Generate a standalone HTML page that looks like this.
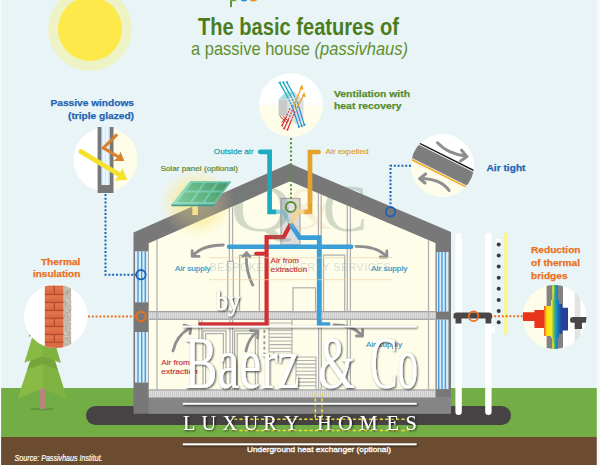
<!DOCTYPE html>
<html><head><meta charset="utf-8">
<style>
html,body{margin:0;padding:0;background:#e9f4f7;}
body{width:600px;height:465px;overflow:hidden;font-family:"Liberation Sans",sans-serif;}
svg{display:block}
text{font-family:"Liberation Sans",sans-serif;}
.serif text{font-family:"Liberation Serif",serif;}
</style></head><body>
<svg width="600" height="465" viewBox="0 0 600 465">
<defs>
  <pattern id="hatch" width="2" height="8" patternUnits="userSpaceOnUse">
    <rect width="2" height="8" fill="#dedede"/><rect width="1" height="8" fill="#cbcbcb"/>
  </pattern>
  <pattern id="glass" width="3.6" height="8" patternUnits="userSpaceOnUse">
    <rect width="3.6" height="8" fill="#d6ecfa"/><rect x="0" width="1.5" height="8" fill="#4d9fdc"/>
  </pattern>
  <linearGradient id="pan" gradientUnits="userSpaceOnUse" x1="172" y1="204" x2="231" y2="181"><stop offset="0" stop-color="#9be0c6"/><stop offset="1" stop-color="#58b99a"/></linearGradient>
  <linearGradient id="pan2" gradientUnits="userSpaceOnUse" x1="172" y1="204" x2="231" y2="181"><stop offset="0" stop-color="#84d09c"/><stop offset="0.6" stop-color="#5cae7c"/><stop offset="1" stop-color="#468f68"/></linearGradient>
  <radialGradient id="glow" cx="0.5" cy="0.5" r="0.5">
    <stop offset="0" stop-color="#fae680" stop-opacity="0.8"/>
    <stop offset="0.5" stop-color="#fbe98c" stop-opacity="0.55"/>
    <stop offset="1" stop-color="#fbf2b4" stop-opacity="0"/>
  </radialGradient>
  <linearGradient id="heat" x1="0" x2="1" y1="0" y2="0">
    <stop offset="0" stop-color="#e8351c"/>
    <stop offset="0.46" stop-color="#e8351c"/>
    <stop offset="0.50" stop-color="#f59a1a"/>
    <stop offset="0.54" stop-color="#fde21a"/>
    <stop offset="0.64" stop-color="#f6e61a"/>
    <stop offset="0.68" stop-color="#7cc242"/>
    <stop offset="0.72" stop-color="#1aa6b8"/>
    <stop offset="0.78" stop-color="#1b75bc"/>
    <stop offset="0.86" stop-color="#23409a"/>
    <stop offset="1" stop-color="#23409a"/>
  </linearGradient>
  <clipPath id="cWin"><circle cx="105.5" cy="159.5" r="32"/></clipPath>
  <clipPath id="cVent"><circle cx="291" cy="105.3" r="32"/></clipPath>
  <clipPath id="cAir"><circle cx="442.5" cy="165.5" r="31.5"/></clipPath>
  <clipPath id="cIns"><circle cx="55.8" cy="316.3" r="31.8"/></clipPath>
  <clipPath id="cBr"><circle cx="554.5" cy="317" r="32"/></clipPath>
  <clipPath id="cHouse"><polygon points="148.7,243.3 290,181.3 435.5,243 435.5,390 148.7,390"/></clipPath>
</defs>

<!-- background -->
<rect width="600" height="465" fill="#e9f4f7"/>

<!-- sun -->
<circle cx="90" cy="29" r="42" fill="#eef3c6"/>
<circle cx="90" cy="29" r="32" fill="#fdea4a"/>

<!-- ground -->
<rect x="0" y="388" width="600" height="50" fill="#73ad46"/>
<rect x="0" y="437" width="600" height="28" fill="#6b4c31"/>

<!-- tree -->
<defs><clipPath id="cT2"><polygon points="42.8,323 67,398.8 42.8,388 17.6,398.8"/></clipPath></defs>
<g>
  <ellipse cx="42.3" cy="409" rx="12.5" ry="1.5" fill="#5f9a3a"/>
  <rect x="39.4" y="385" width="6.2" height="24" fill="#b4877c"/>
  <polygon points="42.8,323 67,398.8 42.8,388 17.6,398.8" fill="#88ba45"/>
  <polygon points="42.8,323 67,398.8 42.8,388" fill="#80b241"/>
  <polygon clip-path="url(#cT2)" points="24.3,362.7 42.8,356 60.7,362.7 62,371 42.8,364 23,371" fill="#76a53b"/>
  <polygon points="42.8,303 60.7,362.7 42.8,356 24.3,362.7" fill="#88ba45"/>
  <polygon points="42.8,303 60.7,362.7 42.8,356" fill="#80b241"/>
  <polygon points="42.8,290 57,337 42.8,331 28.6,337" fill="#88ba45"/>
</g>

<!-- foundation pill -->
<rect x="86" y="406" width="425" height="19" rx="9.5" fill="#474345"/>

<!-- posts -->
<rect x="455.4" y="233" width="6.4" height="182" rx="3.2" fill="#ffffff"/>
<rect x="485.2" y="233" width="6.4" height="182" rx="3.2" fill="#ffffff"/>
<rect x="489" y="326.5" width="6" height="6.5" fill="#ffffff"/>
<!-- dots + yellow line -->
<g fill="#3d3a3c">
  <circle cx="498.7" cy="244.4" r="2"/><circle cx="498.7" cy="255.5" r="2"/><circle cx="498.7" cy="266.6" r="2"/>
  <circle cx="498.7" cy="277.7" r="2"/><circle cx="498.7" cy="288.8" r="2"/><circle cx="498.7" cy="300" r="2"/>
  <circle cx="498.7" cy="311.1" r="2"/><circle cx="498.7" cy="322.3" r="2"/>
</g>
<rect x="496" y="239" width="5" height="3" fill="#ffffff"/>
<rect x="504.2" y="233" width="3.2" height="101.5" fill="#fbf68a"/>

<!-- house shell -->
<ellipse cx="197" cy="203" rx="38" ry="35" fill="url(#glow)"/>
<polygon points="133.5,232.5 290,163.5 451,232 451,413.7 133.5,413.7" fill="#787878"/>
<rect x="148.7" y="397" width="302.3" height="16.7" fill="#858585"/>
<!-- interior -->
<polygon points="148.7,243.3 290,181.3 435.5,243 435.5,390 148.7,390" fill="#fdfde9"/>
<ellipse cx="197" cy="203" rx="38" ry="35" fill="url(#glow)" clip-path="url(#cHouse)"/>
<!-- windows -->
<rect x="135" y="251.3" width="13.2" height="51" fill="#d9edf9"/><rect x="137.30" y="251.3" width="1.4" height="51" fill="#4b9bd8"/><rect x="141.00" y="251.3" width="1.4" height="51" fill="#4b9bd8"/><rect x="144.60" y="251.3" width="1.4" height="51" fill="#4b9bd8"/>
<rect x="135" y="332" width="13.2" height="50.5" fill="#d9edf9"/><rect x="137.30" y="332" width="1.4" height="50.5" fill="#4b9bd8"/><rect x="141.00" y="332" width="1.4" height="50.5" fill="#4b9bd8"/><rect x="144.60" y="332" width="1.4" height="50.5" fill="#4b9bd8"/>
<rect x="436.7" y="252" width="11.8" height="59.5" fill="#d9edf9"/><rect x="438.00" y="252" width="1.4" height="59.5" fill="#4b9bd8"/><rect x="441.30" y="252" width="1.4" height="59.5" fill="#4b9bd8"/><rect x="444.70" y="252" width="1.4" height="59.5" fill="#4b9bd8"/>
<rect x="436.7" y="319.6" width="11.8" height="69.5" fill="#d9edf9"/><rect x="438.00" y="319.6" width="1.4" height="69.5" fill="#4b9bd8"/><rect x="441.30" y="319.6" width="1.4" height="69.5" fill="#4b9bd8"/><rect x="444.70" y="319.6" width="1.4" height="69.5" fill="#4b9bd8"/>
<!-- floors -->
<rect x="148.7" y="311.5" width="286.8" height="8" fill="url(#hatch)"/>
<rect x="148.7" y="311" width="286.8" height="1.3" fill="#a3a3a3"/>
<rect x="148.7" y="318.6" width="286.8" height="1.3" fill="#a3a3a3"/>
<rect x="148.7" y="390" width="286.8" height="7.5" fill="url(#hatch)"/>
<rect x="148.7" y="389.3" width="286.8" height="1.2" fill="#a3a3a3"/>
<!-- interior thin lines -->
<g clip-path="url(#cHouse)" fill="none" stroke="#b0b0b0" stroke-width="1.25">
  <line x1="157" y1="230" x2="157" y2="390"/>
  <line x1="428.5" y1="230" x2="428.5" y2="390"/>
  <line x1="229.4" y1="200" x2="229.4" y2="262"/><line x1="232.6" y1="200" x2="232.6" y2="262"/>
  <line x1="347.3" y1="200" x2="347.3" y2="311"/><line x1="350.4" y1="200" x2="350.4" y2="311"/>
  <line x1="318.4" y1="190" x2="318.4" y2="311"/><line x1="321.2" y1="190" x2="321.2" y2="311"/>
  <rect x="227.8" y="261.3" width="5.6" height="50"/>
  <polyline points="239.6,311 239.6,255.4 264,255.4"/>
  <line x1="259.4" y1="255.4" x2="259.4" y2="311"/>
  <rect x="293" y="287.8" width="22.6" height="24"/>
  <polyline points="323.5,311 323.5,255 344.7,255 344.7,311"/>
  <!-- lower floor -->
  <line x1="199" y1="320" x2="199" y2="340"/><line x1="201.8" y1="320" x2="201.8" y2="340"/>
  <rect x="203" y="331" width="23" height="60"/><rect x="205.6" y="333.6" width="17.8" height="58"/>
  <line x1="230" y1="320" x2="230" y2="390"/><line x1="232.6" y1="320" x2="232.6" y2="390"/>
  <rect x="234.6" y="331" width="23.4" height="60"/><rect x="237.2" y="333.6" width="18.2" height="58"/>
  <line x1="318.6" y1="320" x2="318.6" y2="390"/><line x1="321.3" y1="320" x2="321.3" y2="390"/>
  <line x1="347.3" y1="320" x2="347.3" y2="390"/><line x1="350.4" y1="320" x2="350.4" y2="390"/>
  <!-- stairs -->
  <path d="M269,320 V352 H274 V357 H292 M292,320 V357 H296 V390 M316,357 V390 M296,357 H316 M269,323.0 H292 M269,326.6 H292 M269,330.2 H292 M269,333.8 H292 M269,337.4 H292 M269,341.0 H292 M269,344.6 H292 M269,348.2 H292 M269,351.8 H292 M296.0,360.5 H316 M296.0,364.1 H316 M296.0,367.7 H316 M296.0,371.3 H316 M296.0,374.9 H316 M296.0,378.5 H316 M296.0,382.1 H316 M296.0,385.7 H316 " stroke-width="1.1"/>
</g>
<line x1="264.4" y1="330" x2="264.4" y2="355" stroke="#9a9a9a" stroke-width="1.9" stroke-dasharray="3,2.6"/>
<!-- HVAC box -->
<rect x="281" y="198.5" width="19" height="46.5" fill="#dcdcdc" stroke="#a8a8a8" stroke-width="1.2"/>
<!-- PIPES -->
<g fill="none" stroke-linecap="round" stroke-linejoin="miter">
  <line x1="229.2" y1="246.8" x2="351.2" y2="246.8" stroke="#3a9fd8" stroke-width="4.6"/>
  <polyline points="260.2,151.8 269.6,151.8 269.6,211.8 276,211.8" stroke="#1cabc0" stroke-width="4.7" stroke-linecap="round"/>
  <polyline points="318.6,152 310,152 310,211.8 304.5,211.8" stroke="#e5a22c" stroke-width="4.7"/>
  <polyline points="276,211.8 283,211.8 290.6,224" stroke="#8fd3de" stroke-width="4" stroke-linecap="butt" stroke-linejoin="round"/>
  <polyline points="304.5,211.8 298.2,211.8 290.6,224" stroke="#f8d48a" stroke-width="4" stroke-linecap="butt" stroke-linejoin="round"/>
  <polyline points="290.6,224 283.6,237.2 266.6,237.2 266.6,324.3 198.5,324.3" stroke="#d22f35" stroke-width="4.2" stroke-linecap="butt"/>
  <line x1="256" y1="253.6" x2="266" y2="253.6" stroke="#d22f35" stroke-width="3.8"/>
  <polyline points="290.6,224 299.6,237.6 319.2,237.6 319.2,324.6 330.2,324.6" stroke="#3a9fd8" stroke-width="4.7" stroke-linecap="butt"/>
</g>
<circle cx="290.8" cy="207" r="5" fill="#e2e2e2" stroke="#4f8f2a" stroke-width="1.9"/>
<!-- yellow dashed heat exchanger -->
<g fill="none" stroke="#eedd3a" stroke-width="1.6" stroke-dasharray="3.2,2.2">
  <line x1="315.3" y1="393" x2="315.3" y2="419"/><line x1="322" y1="393" x2="322" y2="419"/>
  <line x1="234" y1="419.3" x2="409" y2="419.3"/><line x1="234" y1="430.5" x2="409" y2="430.5"/>
</g>
<!-- grey arrows -->
<g fill="none" stroke="#8e8e8e" stroke-width="2.8" stroke-linecap="round" stroke-linejoin="round">
  <path d="M223.3,245 C209,245.2 199.5,248.5 193.6,255"/>
  <polyline points="192.2,250.6 192.2,256.4 199,256.4"/>
  <path d="M356,246.3 C370,246.3 380,249.5 385.6,255.6"/>
  <polyline points="386.8,251 386.8,257 380.2,257"/>
  <path d="M252.7,285 C247.5,275 246,265 246.3,254.5"/>
  <polyline points="242.8,256.6 246.6,252.6 250,257"/>
  <path d="M173,351 C175.5,340.5 181,333 189,328.8"/>
  <polyline points="184,325.2 191,327.2 190,333.6"/>
  <path d="M246,351 C247.5,343 251,336.5 256.5,332.6"/>
  <polyline points="250.6,330.6 258,331 257.6,338"/>
  <path d="M334,325 C346,325 355,328 360.5,334"/>
  <polyline points="362.6,329.6 362.6,336 356.4,336"/>
</g>
<!-- INTERIOR-END -->

<!-- HOUSE-END -->

<!-- solar panel -->
<ellipse cx="197" cy="203" rx="38" ry="35" fill="url(#glow)" opacity="0.45"/>
<rect x="192.3" y="203" width="5.6" height="12" fill="#f7e08e"/>
<polygon points="171.5,204.2 214.6,204.2 214.6,206.3 171.5,206.3" fill="#3f9c92"/>
<polygon points="190.3,181 231.4,181.4 214.6,204.2 171.5,204.2" fill="url(#pan)"/>
<g fill="url(#pan2)">
  <polygon points="192.2,183 203,183.1 198,190.6 186.4,190.6"/>
  <polygon points="205.3,183.1 216,183.2 210.6,190.6 200.2,190.6"/>
  <polygon points="218.3,183.2 228,183.3 222.8,190.6 212.9,190.6"/>
  <polygon points="185,192.6 196.6,192.6 190.3,202 177.5,202"/>
  <polygon points="198.9,192.6 209.2,192.6 202.6,202 192.6,202"/>
  <polygon points="211.5,192.6 221.3,192.6 214.3,202 204.9,202"/>
</g>

<!-- dotted connectors -->
<g fill="none" stroke-width="2" stroke-linecap="butt">
  <polyline points="105.5,194 105.5,274.7 136,274.7" stroke="#1b63b5" stroke-dasharray="2,1.8"/>
  <polyline points="411,165.8 390.5,165.8 390.5,206.5" stroke="#1b63b5" stroke-dasharray="2,1.8"/>
  <line x1="291" y1="138" x2="291" y2="201.5" stroke="#5a9232" stroke-dasharray="2,2.2"/>
  <line x1="88" y1="316.5" x2="135.5" y2="316.5" stroke="#e8701e" stroke-dasharray="2,1.8"/>
  <line x1="479" y1="316.3" x2="523" y2="316.3" stroke="#e8701e" stroke-dasharray="2,1.8"/>
</g>
<circle cx="141" cy="274.7" r="4.7" fill="none" stroke="#1b63b5" stroke-width="1.8"/>
<circle cx="390.5" cy="211.7" r="4.7" fill="none" stroke="#1b63b5" stroke-width="1.8"/>
<circle cx="141" cy="316.5" r="4.7" fill="none" stroke="#e8701e" stroke-width="2"/>

<!-- bracket -->
<path d="M453.5,318.6 V315.5 Q453.5,312.6 456.5,312.6 H489 Q492,312.6 492,315.5 V318.6 H491.3 V323.5 H485.5 V318.6 H461.5 V323.5 H455.5 V318.6 Z" fill="#4a4648"/>
<circle cx="473.6" cy="316.3" r="4.8" fill="none" stroke="#e8701e" stroke-width="1.8"/>

<!-- passive window circle -->
<g clip-path="url(#cWin)">
  <rect x="73" y="127" width="33" height="66" fill="#ffffff"/>
  <rect x="105.5" y="127" width="33" height="66" fill="#fdfde9"/>
</g>
<rect x="97.6" y="127" width="15.9" height="66" fill="#787878"/>
<rect x="101.4" y="126.8" width="8.4" height="58.2" fill="#cfe9f8"/>
<rect x="103.3" y="126.8" width="1.2" height="58.2" fill="#ffffff"/><rect x="106.4" y="126.8" width="1.2" height="58.2" fill="#ffffff"/>
<g fill="none" stroke-linecap="butt" stroke-linejoin="miter">
  <polyline points="117.2,134.3 103.3,147.9 119.2,157.3" stroke="#d9812b" stroke-width="3.1"/>
  <line x1="81" y1="151.6" x2="119" y2="174.5" stroke="#f5e22e" stroke-width="4.9" stroke-linecap="round"/>
</g>
<polygon points="124.4,160.9 120.4,151.4 118.6,156.8 113.4,160.9" fill="#d9812b"/>
<polygon points="127.4,180 122.2,168.2 119.4,174.6 114.6,180.4" fill="#f5e22e"/>

<!-- ventilation circle -->
<g clip-path="url(#cVent)">
  <rect x="258" y="73" width="66" height="32.3" fill="#ffffff"/>
  <rect x="258" y="105.3" width="66" height="33" fill="#fdfde9"/>
</g>
<g>
  <polygon points="278.6,99.5 285.5,92.2 294.5,91.8 287.4,99.5" fill="#a9dede"/>
  <polygon points="287.4,99.5 294.5,91.8 303.5,100 303.5,118.5 296,124.5 287.4,116.3" fill="#dedede"/>
  <rect x="278.6" y="99.5" width="8.8" height="16.8" fill="#c9c9c9"/>
  <g fill="none" stroke-width="1.25">
    <path d="M279.6,82.6 L287.6,97 M283.2,82.4 L291,96.4 M286.8,82.2 L294.2,95.6" stroke="#18a8c2"/>
    <path d="M287.6,97 L292,106 M291,96.4 L295.2,105 M294.2,95.6 L298,103.5" stroke="#18a8c2" stroke-dasharray="1.8,1.2"/>
    <path d="M291.5,104.5 L298.8,126.4 M294.6,103.6 L301.6,125.8 M297.6,102.8 L304.2,124.6" stroke="#2a8fd6"/>
    <path d="M293.2,107.5 L301.2,88 M296.2,109.5 L303.4,95.5" stroke="#eaa42c"/>
    <path d="M292.4,110 L288.8,118.6 M295,111.6 L291.6,119.6 M290,108.6 L286,117.4" stroke="#cf3438" stroke-dasharray="1.6,1.2"/>
    <path d="M288.8,118.6 L284.4,128 M291.6,119.6 L287.6,129.4 M286,117.4 L282.4,125" stroke="#cf3438"/>
    <path d="M280,116.5 L287.5,123 M283,116.5 L289,121.5 M287,116.5 L281.5,122.5" stroke="#cf3438" stroke-width="1"/>
  </g>
  <polygon points="302.2,84.4 299.3,88.6 303.6,90" fill="#eaa42c"/>
  <polygon points="304.3,92 301.6,96 305.8,97.2" fill="#eaa42c"/>
  <g fill="#18a8c2"><polygon points="278,82.6 280.6,81.2 280.6,84"/><polygon points="281.6,82.4 284.2,81 284.2,83.8"/><polygon points="285.2,82.2 287.8,80.8 287.8,83.6"/></g>
  <g fill="#2a8fd6"><circle cx="298.9" cy="126.8" r="1.15"/><circle cx="301.8" cy="126.1" r="1.15"/><circle cx="304.4" cy="124.9" r="1.15"/></g>
  <g fill="#cf3438"><circle cx="284.2" cy="128.4" r="1.05"/><circle cx="287.4" cy="129.8" r="1.05"/><circle cx="282.2" cy="125.4" r="1.05"/></g>
</g>

<!-- air tight circle -->
<g clip-path="url(#cAir)">
  <rect x="410" y="133" width="66" height="66" fill="#ffffff"/>
  <polygon points="405,157 480,194.7 480,200 405,200" fill="#fdfde9"/>
  <polygon points="405,137.7 480,175.4 480,192.2 405,154.5" fill="#7d7d7d"/>
  <line x1="405" y1="136" x2="480" y2="173.7" stroke="#1c1c1c" stroke-width="1.5"/>
  <line x1="405" y1="156.2" x2="480" y2="193.9" stroke="#eeac2e" stroke-width="1.7"/>
</g>
<g fill="none" stroke="#8e8e8e" stroke-width="3" stroke-linecap="round" stroke-linejoin="round">
  <path d="M437.5,142.8 C445,151 453,154.5 465.5,156"/>
  <polyline points="461.6,150.2 467,156.6 460.6,161"/>
  <path d="M449,190.5 C443,182 434,178.8 421,178.6"/>
  <polyline points="425.6,174 419.6,178.6 425,183"/>
</g>

<!-- insulation circle -->
<circle cx="55.8" cy="316.3" r="31.8" fill="#ffffff"/>
<g clip-path="url(#cIns)">
  <rect x="44.8" y="285.6" width="18.9" height="66" fill="#dc6a42"/>
  <g fill="#e27a52" opacity="0.7">
    <rect x="45.5" y="287" width="8" height="3"/><rect x="55.3" y="287" width="7.6" height="3"/>
    <rect x="45.5" y="295.6" width="17.4" height="3"/><rect x="45.5" y="303.6" width="8" height="3"/><rect x="55.3" y="303.6" width="7.6" height="3"/>
    <rect x="45.5" y="311.6" width="17.4" height="3"/><rect x="45.5" y="319.4" width="8" height="3"/><rect x="55.3" y="319.4" width="7.6" height="3"/>
    <rect x="45.5" y="327.6" width="17.4" height="3"/><rect x="45.5" y="335.6" width="8" height="3"/><rect x="55.3" y="335.6" width="7.6" height="3"/>
  </g>
  <g stroke="#a9472b" stroke-width="1" fill="none">
    <path d="M44.8,294.3 H63.7 M44.8,302.3 H63.7 M44.8,310.3 H63.7 M44.8,318.1 H63.7 M44.8,326.4 H63.7 M44.8,334.4 H63.7 M44.8,342.2 H63.7"/>
    <path d="M54.3,285.6 V294.3 M54.3,302.3 V310.3 M54.3,318.1 V326.4 M54.3,334.4 V342.2"/>
  </g>
  <rect x="63.7" y="284" width="7.4" height="66" fill="#c6bcad"/>
  <rect x="65.5" y="319.8" width="1" height="1" fill="#b5aa9a"/><rect x="70.2" y="315.3" width="1" height="1" fill="#9c917f"/><rect x="64.3" y="285.8" width="1" height="1" fill="#d8d0c2"/><rect x="65.6" y="300.0" width="1" height="1" fill="#d8d0c2"/><rect x="67.6" y="320.2" width="1" height="1" fill="#d8d0c2"/><rect x="68.3" y="294.6" width="1" height="1" fill="#e2dacd"/><rect x="69.9" y="318.5" width="1" height="1" fill="#a79b8a"/><rect x="68.5" y="289.1" width="1" height="1" fill="#9c917f"/><rect x="64.1" y="334.9" width="1" height="1" fill="#b5aa9a"/><rect x="67.1" y="331.0" width="1" height="1" fill="#d8d0c2"/><rect x="68.8" y="344.0" width="1" height="1" fill="#d8d0c2"/><rect x="68.9" y="321.9" width="1" height="1" fill="#e2dacd"/><rect x="70.0" y="291.2" width="1" height="1" fill="#e2dacd"/><rect x="67.3" y="301.5" width="1" height="1" fill="#d8d0c2"/><rect x="69.3" y="339.7" width="1" height="1" fill="#d8d0c2"/><rect x="67.4" y="309.7" width="1" height="1" fill="#b5aa9a"/><rect x="67.5" y="311.1" width="1" height="1" fill="#e2dacd"/><rect x="70.1" y="328.6" width="1" height="1" fill="#a79b8a"/><rect x="69.8" y="348.4" width="1" height="1" fill="#e2dacd"/><rect x="68.7" y="305.9" width="1" height="1" fill="#9c917f"/><rect x="70.1" y="321.4" width="1" height="1" fill="#e2dacd"/><rect x="68.2" y="348.2" width="1" height="1" fill="#b5aa9a"/><rect x="65.8" y="289.1" width="1" height="1" fill="#d8d0c2"/><rect x="64.4" y="336.2" width="1" height="1" fill="#d8d0c2"/><rect x="70.1" y="286.3" width="1" height="1" fill="#d8d0c2"/><rect x="69.2" y="340.9" width="1" height="1" fill="#a79b8a"/><rect x="68.0" y="333.7" width="1" height="1" fill="#d8d0c2"/><rect x="68.8" y="306.2" width="1" height="1" fill="#b5aa9a"/><rect x="67.3" y="348.9" width="1" height="1" fill="#b5aa9a"/><rect x="63.9" y="291.9" width="1" height="1" fill="#9c917f"/><rect x="64.0" y="297.6" width="1" height="1" fill="#d8d0c2"/><rect x="65.8" y="301.9" width="1" height="1" fill="#a79b8a"/><rect x="70.7" y="306.7" width="1" height="1" fill="#b5aa9a"/><rect x="70.5" y="342.4" width="1" height="1" fill="#d8d0c2"/><rect x="66.4" y="340.7" width="1" height="1" fill="#d8d0c2"/><rect x="68.3" y="323.1" width="1" height="1" fill="#9c917f"/><rect x="64.5" y="347.3" width="1" height="1" fill="#9c917f"/><rect x="65.7" y="325.6" width="1" height="1" fill="#e2dacd"/><rect x="70.4" y="313.0" width="1" height="1" fill="#b5aa9a"/><rect x="67.4" y="320.1" width="1" height="1" fill="#a79b8a"/><rect x="69.3" y="348.2" width="1" height="1" fill="#b5aa9a"/><rect x="63.9" y="324.4" width="1" height="1" fill="#e2dacd"/><rect x="64.2" y="325.1" width="1" height="1" fill="#d8d0c2"/><rect x="66.3" y="343.7" width="1" height="1" fill="#9c917f"/><rect x="68.7" y="332.2" width="1" height="1" fill="#a79b8a"/><rect x="67.9" y="346.1" width="1" height="1" fill="#a79b8a"/><rect x="70.5" y="301.1" width="1" height="1" fill="#d8d0c2"/><rect x="65.9" y="323.5" width="1" height="1" fill="#e2dacd"/><rect x="66.3" y="305.0" width="1" height="1" fill="#b5aa9a"/><rect x="69.7" y="301.9" width="1" height="1" fill="#d8d0c2"/><rect x="64.5" y="337.0" width="1" height="1" fill="#9c917f"/><rect x="68.6" y="293.4" width="1" height="1" fill="#9c917f"/><rect x="65.4" y="336.4" width="1" height="1" fill="#e2dacd"/><rect x="66.1" y="328.4" width="1" height="1" fill="#a79b8a"/><rect x="64.5" y="305.6" width="1" height="1" fill="#b5aa9a"/><rect x="68.5" y="299.4" width="1" height="1" fill="#e2dacd"/><rect x="64.4" y="332.5" width="1" height="1" fill="#e2dacd"/><rect x="70.0" y="313.9" width="1" height="1" fill="#e2dacd"/><rect x="69.3" y="287.2" width="1" height="1" fill="#e2dacd"/><rect x="66.0" y="338.5" width="1" height="1" fill="#9c917f"/><rect x="65.1" y="302.8" width="1" height="1" fill="#a79b8a"/><rect x="69.4" y="307.1" width="1" height="1" fill="#e2dacd"/><rect x="66.7" y="318.2" width="1" height="1" fill="#b5aa9a"/><rect x="67.1" y="325.6" width="1" height="1" fill="#b5aa9a"/><rect x="66.7" y="311.2" width="1" height="1" fill="#d8d0c2"/><rect x="64.9" y="285.3" width="1" height="1" fill="#9c917f"/><rect x="70.7" y="312.8" width="1" height="1" fill="#e2dacd"/><rect x="64.0" y="314.2" width="1" height="1" fill="#9c917f"/><rect x="70.5" y="319.8" width="1" height="1" fill="#e2dacd"/><rect x="69.8" y="339.9" width="1" height="1" fill="#b5aa9a"/><rect x="64.6" y="300.7" width="1" height="1" fill="#a79b8a"/><rect x="70.1" y="329.4" width="1" height="1" fill="#e2dacd"/><rect x="70.1" y="342.6" width="1" height="1" fill="#9c917f"/><rect x="64.1" y="315.8" width="1" height="1" fill="#a79b8a"/><rect x="65.0" y="304.2" width="1" height="1" fill="#a79b8a"/><rect x="67.5" y="311.5" width="1" height="1" fill="#9c917f"/><rect x="64.6" y="293.0" width="1" height="1" fill="#9c917f"/><rect x="67.1" y="335.1" width="1" height="1" fill="#b5aa9a"/><rect x="65.3" y="292.8" width="1" height="1" fill="#a79b8a"/><rect x="65.0" y="335.7" width="1" height="1" fill="#e2dacd"/><rect x="69.6" y="285.5" width="1" height="1" fill="#9c917f"/><rect x="69.8" y="288.2" width="1" height="1" fill="#b5aa9a"/><rect x="65.5" y="324.6" width="1" height="1" fill="#9c917f"/><rect x="66.8" y="315.3" width="1" height="1" fill="#a79b8a"/><rect x="69.8" y="334.6" width="1" height="1" fill="#a79b8a"/><rect x="64.7" y="289.4" width="1" height="1" fill="#a79b8a"/><rect x="69.8" y="290.5" width="1" height="1" fill="#9c917f"/><rect x="67.2" y="295.1" width="1" height="1" fill="#a79b8a"/><rect x="66.3" y="326.4" width="1" height="1" fill="#9c917f"/><rect x="65.9" y="302.0" width="1" height="1" fill="#b5aa9a"/><rect x="66.8" y="293.2" width="1" height="1" fill="#a79b8a"/><rect x="68.8" y="309.3" width="1" height="1" fill="#a79b8a"/><rect x="67.8" y="287.7" width="1" height="1" fill="#d8d0c2"/><rect x="68.0" y="335.1" width="1" height="1" fill="#d8d0c2"/><rect x="68.3" y="287.8" width="1" height="1" fill="#d8d0c2"/><rect x="64.2" y="325.2" width="1" height="1" fill="#b5aa9a"/><rect x="66.7" y="329.4" width="1" height="1" fill="#d8d0c2"/><rect x="63.9" y="299.0" width="1" height="1" fill="#b5aa9a"/><rect x="68.7" y="289.6" width="1" height="1" fill="#d8d0c2"/><rect x="65.4" y="293.3" width="1" height="1" fill="#a79b8a"/><rect x="70.4" y="309.0" width="1" height="1" fill="#9c917f"/><rect x="69.3" y="301.8" width="1" height="1" fill="#d8d0c2"/><rect x="68.6" y="345.1" width="1" height="1" fill="#9c917f"/><rect x="69.3" y="327.7" width="1" height="1" fill="#b5aa9a"/><rect x="67.7" y="291.6" width="1" height="1" fill="#9c917f"/><rect x="68.8" y="315.3" width="1" height="1" fill="#e2dacd"/><rect x="69.2" y="287.8" width="1" height="1" fill="#a79b8a"/><rect x="67.8" y="327.2" width="1" height="1" fill="#d8d0c2"/><rect x="65.1" y="286.5" width="1" height="1" fill="#a79b8a"/><rect x="64.0" y="292.4" width="1" height="1" fill="#d8d0c2"/><rect x="69.7" y="346.0" width="1" height="1" fill="#9c917f"/><rect x="65.9" y="290.7" width="1" height="1" fill="#9c917f"/><rect x="67.4" y="330.8" width="1" height="1" fill="#a79b8a"/><rect x="67.7" y="291.4" width="1" height="1" fill="#9c917f"/><rect x="64.2" y="305.8" width="1" height="1" fill="#9c917f"/><rect x="65.1" y="289.9" width="1" height="1" fill="#e2dacd"/><rect x="68.3" y="314.1" width="1" height="1" fill="#d8d0c2"/><rect x="65.6" y="323.4" width="1" height="1" fill="#b5aa9a"/><rect x="67.7" y="346.8" width="1" height="1" fill="#d8d0c2"/><rect x="67.3" y="347.3" width="1" height="1" fill="#d8d0c2"/><rect x="69.7" y="346.9" width="1" height="1" fill="#d8d0c2"/><rect x="68.6" y="333.4" width="1" height="1" fill="#9c917f"/><rect x="68.6" y="295.0" width="1" height="1" fill="#d8d0c2"/><rect x="70.1" y="294.6" width="1" height="1" fill="#a79b8a"/><rect x="67.3" y="315.9" width="1" height="1" fill="#9c917f"/><rect x="70.5" y="322.5" width="1" height="1" fill="#e2dacd"/><rect x="64.8" y="333.1" width="1" height="1" fill="#e2dacd"/><rect x="67.9" y="305.2" width="1" height="1" fill="#e2dacd"/><rect x="69.8" y="319.4" width="1" height="1" fill="#b5aa9a"/><rect x="68.5" y="339.7" width="1" height="1" fill="#9c917f"/><rect x="69.8" y="322.4" width="1" height="1" fill="#b5aa9a"/><rect x="70.0" y="304.7" width="1" height="1" fill="#b5aa9a"/><rect x="67.2" y="309.5" width="1" height="1" fill="#e2dacd"/><rect x="67.8" y="300.3" width="1" height="1" fill="#d8d0c2"/><rect x="69.2" y="294.2" width="1" height="1" fill="#d8d0c2"/><rect x="68.7" y="298.2" width="1" height="1" fill="#9c917f"/><rect x="69.6" y="337.6" width="1" height="1" fill="#9c917f"/><rect x="64.0" y="348.5" width="1" height="1" fill="#a79b8a"/><rect x="69.8" y="310.6" width="1" height="1" fill="#a79b8a"/><rect x="67.1" y="299.7" width="1" height="1" fill="#e2dacd"/><rect x="68.3" y="334.7" width="1" height="1" fill="#a79b8a"/><rect x="70.5" y="339.6" width="1" height="1" fill="#e2dacd"/><rect x="70.0" y="334.7" width="1" height="1" fill="#e2dacd"/><rect x="65.1" y="330.1" width="1" height="1" fill="#a79b8a"/><rect x="70.1" y="301.3" width="1" height="1" fill="#a79b8a"/><rect x="66.0" y="312.1" width="1" height="1" fill="#a79b8a"/><rect x="64.6" y="301.9" width="1" height="1" fill="#b5aa9a"/><rect x="64.1" y="314.0" width="1" height="1" fill="#b5aa9a"/><rect x="63.8" y="306.4" width="1" height="1" fill="#d8d0c2"/><rect x="66.5" y="290.0" width="1" height="1" fill="#9c917f"/>
</g>

<!-- thermal bridge circle -->
<g clip-path="url(#cBr)">
  <rect x="522" y="284" width="33" height="66" fill="#fdfde9"/>
  <rect x="554.5" y="284" width="33" height="66" fill="#ffffff"/>
  <rect x="574.7" y="284" width="5.8" height="66" fill="#e3e3e3"/>
  <rect x="546.6" y="284" width="16.4" height="66" fill="#828282"/>
  <rect x="552.2" y="284" width="1.8" height="66" fill="#d7df3a"/>
  <rect x="554" y="284" width="1.6" height="66" fill="#58b947"/>
  <rect x="555.6" y="284" width="2.4" height="66" fill="#1b86c4"/>
  <path d="M522.6,312.2 H534.4 V310 H544 V306 H551 V300 H553.5 V294 H556.5 V300 H559 V304 H562 V307.7 H568 V330.4 H562 V334 H559 V338 H556.5 V343 H553.5 V338 H551 V336 H544 V328 H534.4 V321 H522.6 Z" fill="url(#heat)"/>
  <path d="M570,319.9 Q570,317 573,317 H587 V322.8 H582 V329 H574.7 V322.8 H573 Q570,322.8 570,319.9 Z" fill="#4a4648"/>
</g>
<!-- CALLOUT-END -->

<!-- logo remnants at top -->
<rect x="230" y="0" width="2" height="7.2" rx="0.8" fill="#5f9a32"/>
<path d="M231,0 H237.5 Q235,1.6 231,1.4 Z" fill="#6aa33a"/>
<path d="M240.5,0 Q244,3 247.5,0 Z" fill="#2a8fd4"/>
<path d="M249.5,0 Q253.5,3.2 257.5,0 Z" fill="#ee8a2b"/>
<!-- titles -->
<text x="198" y="35.2" font-size="24" font-weight="bold" fill="#4b7d1f" textLength="201" lengthAdjust="spacingAndGlyphs">The basic features of</text>
<text x="191" y="54.8" font-size="18.4" fill="#5f8f2e" textLength="217" lengthAdjust="spacingAndGlyphs">a passive house <tspan font-style="italic">(passivhaus)</tspan></text>
<!-- labels -->
<g font-weight="bold" font-size="9.9">
  <text x="134" y="106.3" text-anchor="end" fill="#1f65b4" stroke="#1f65b4" stroke-width="0.25" textLength="83.5" lengthAdjust="spacingAndGlyphs">Passive windows</text>
  <text x="134" y="119" text-anchor="end" fill="#1f65b4" stroke="#1f65b4" stroke-width="0.25" textLength="66" lengthAdjust="spacingAndGlyphs">(triple glazed)</text>
  <text x="334" y="96.6" fill="#5a8c2b" stroke="#5a8c2b" stroke-width="0.25" textLength="76" lengthAdjust="spacingAndGlyphs">Ventilation with</text>
  <text x="334" y="109" fill="#5a8c2b" stroke="#5a8c2b" stroke-width="0.25" textLength="67.5" lengthAdjust="spacingAndGlyphs">heat recovery</text>
  <text x="486.5" y="171" fill="#1f65b4" stroke="#1f65b4" stroke-width="0.25" textLength="39" lengthAdjust="spacingAndGlyphs">Air tight</text>
  <text x="80.4" y="265.4" text-anchor="end" fill="#e8701e" stroke="#e8701e" stroke-width="0.25" textLength="39.5" lengthAdjust="spacingAndGlyphs">Thermal</text>
  <text x="80.4" y="277.2" text-anchor="end" fill="#e8701e" stroke="#e8701e" stroke-width="0.25" textLength="47.5" lengthAdjust="spacingAndGlyphs">insulation</text>
  <text x="531" y="253.2" fill="#e8701e" stroke="#e8701e" stroke-width="0.25" textLength="49.5" lengthAdjust="spacingAndGlyphs">Reduction</text>
  <text x="531" y="266.4" fill="#e8701e" stroke="#e8701e" stroke-width="0.25" textLength="49" lengthAdjust="spacingAndGlyphs">of thermal</text>
  <text x="531" y="279.2" fill="#e8701e" stroke="#e8701e" stroke-width="0.25" textLength="36.5" lengthAdjust="spacingAndGlyphs">bridges</text>
</g>
<g font-size="7.8">
  <text x="213.8" y="153.8" fill="#1aa3b8" stroke="#1aa3b8" stroke-width="0.25" textLength="39.6" lengthAdjust="spacingAndGlyphs">Outside air</text>
  <text x="325.6" y="154.4" fill="#e0a030" stroke="#e0a030" stroke-width="0.2" textLength="43" lengthAdjust="spacingAndGlyphs">Air expelled</text>
  <text x="160.4" y="170.6" fill="#5f8a35" stroke="#5f8a35" stroke-width="0.2" textLength="77.6" lengthAdjust="spacingAndGlyphs">Solar panel (optional)</text>
  <text x="175" y="270.5" fill="#3a97c9" stroke="#3a97c9" stroke-width="0.2" textLength="35.5" lengthAdjust="spacingAndGlyphs">Air supply</text>
  <text x="371" y="270.5" fill="#3a97c9" stroke="#3a97c9" stroke-width="0.2" textLength="36.5" lengthAdjust="spacingAndGlyphs">Air supply</text>
  <text x="366" y="346.8" fill="#3a97c9" stroke="#3a97c9" stroke-width="0.2" textLength="36" lengthAdjust="spacingAndGlyphs">Air supply</text>
  <text x="270.6" y="262.6" fill="#c8393b" stroke="#c8393b" stroke-width="0.2" textLength="28.5" lengthAdjust="spacingAndGlyphs">Air from</text>
  <text x="270.6" y="271.8" fill="#c8393b" stroke="#c8393b" stroke-width="0.2" textLength="36.5" lengthAdjust="spacingAndGlyphs">extraction</text>
  <text x="161.3" y="364.6" fill="#c8393b" stroke="#c8393b" stroke-width="0.2" textLength="28.5" lengthAdjust="spacingAndGlyphs">Air from</text>
  <text x="161.3" y="373.8" fill="#c8393b" stroke="#c8393b" stroke-width="0.2" textLength="36.5" lengthAdjust="spacingAndGlyphs">extraction</text>
  <text x="247" y="451.6" fill="#ffffff" stroke="#ffffff" stroke-width="0.3" textLength="144" lengthAdjust="spacingAndGlyphs">Underground heat exchanger (optional)</text>
</g>
<text x="14.6" y="461.3" font-size="9" font-style="italic" fill="#ffffff" stroke="#fff" stroke-width="0.2" textLength="88" lengthAdjust="spacingAndGlyphs">Source: Passivhaus Institut.</text>
<!-- TEXT-END -->

<!-- watermark -->
<defs>
  <filter id="sh" x="-10%" y="-10%" width="125%" height="130%">
    <feGaussianBlur in="SourceAlpha" stdDeviation="0.9"/>
    <feOffset dx="1.4" dy="1.4" result="o"/>
    <feComponentTransfer><feFuncA type="linear" slope="0.75"/></feComponentTransfer>
    <feMerge><feMergeNode/><feMergeNode in="SourceGraphic"/></feMerge>
  </filter>
</defs>
<g class="serif" opacity="0.29">
  <text x="230.5" y="230.5" font-size="68" fill="#6d8378" textLength="62" lengthAdjust="spacingAndGlyphs">Q</text>
  <text x="286" y="229" font-size="62" fill="#e2c595" opacity="0.75" textLength="46" lengthAdjust="spacingAndGlyphs">&amp;</text>
  <text x="322.5" y="230.5" font-size="68" fill="#6d8378" textLength="45" lengthAdjust="spacingAndGlyphs">C</text>
</g>
<line x1="209" y1="257.7" x2="392" y2="257.7" stroke="#efd3a8" stroke-width="0.9" opacity="0.8"/>
<line x1="209" y1="279.7" x2="392" y2="279.7" stroke="#efd3a8" stroke-width="0.9" opacity="0.8"/>
<text x="209.7" y="271.3" font-size="10.4" fill="#9aa5a3" opacity="0.36" textLength="181" lengthAdjust="spacing">BESPOKE PROPERTY SERVICES</text>
<g class="serif" filter="url(#sh)" fill="#ffffff">
  <text x="216" y="309.8" font-size="27" textLength="24" lengthAdjust="spacingAndGlyphs" stroke="#fff" stroke-width="0.5">by</text>
  <text x="184.5" y="388.4" font-size="73" textLength="115" lengthAdjust="spacingAndGlyphs">Baerz</text>
  <text x="318" y="388.4" font-size="73" textLength="37" lengthAdjust="spacingAndGlyphs">&amp;</text>
  <text x="370" y="388.4" font-size="73" textLength="48" lengthAdjust="spacingAndGlyphs">Co</text>
  <rect x="182.8" y="325.6" width="233.8" height="1.8"/>
  <rect x="182.8" y="402.8" width="233.8" height="1.9"/>
  <rect x="182.8" y="443.3" width="233.8" height="1.9"/>
  <text font-size="20.3" y="430.4" x="183 201.6 222.6 243.6 263.2 284.2">LUXURY</text>
  <text font-size="20.3" y="430.4" x="317 338 359.4 386.4 405.5">HOMES</text>
</g>

<rect x="0" y="0" width="1.1" height="465" fill="#f8fbfb"/>
<rect x="596.8" y="0" width="3.2" height="465" fill="#f4f9f9"/>
<!-- GROUND-END -->
</svg>
</body></html>
